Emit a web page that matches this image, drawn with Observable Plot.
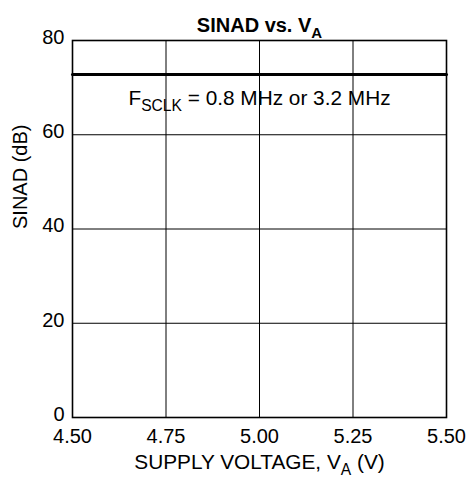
<!DOCTYPE html>
<html><head><meta charset="utf-8">
<script src="https://cdn.jsdelivr.net/npm/d3@7"></script>
<script src="https://cdn.jsdelivr.net/npm/@observablehq/plot@0.6"></script>
<style>
body{margin:0;background:#fff}
#chart svg{font-family:"Liberation Sans",Arial,Helvetica,sans-serif;background:#fff;color:#000}
</style>
</head><body><div id="chart"></div>
<script>
const voltage = [4.50, 4.75, 5.00, 5.25, 5.50];
const sinad = [72.8, 72.8, 72.8, 72.8, 72.8];
const xTicks = [4.50, 4.75, 5.00, 5.25, 5.50];
const yTicks = [0, 20, 40, 60, 80];
const titleText = "SINAD vs. V_{A}";
const xLabel = "SUPPLY VOLTAGE, V_{A} (V)";
const yLabel = "SINAD (dB)";
const noteText = "F_{SCLK} = 0.8 MHz or 3.2 MHz";
const noteX = 5.0, noteY = 67.8;

const data = voltage.map((v, i) => ({v, s: sinad[i]}));
const FS = 20;
const FL = 20.8;

const chart = Plot.plot({
  width: 466, height: 487,
  marginLeft: 72, marginRight: 20, marginTop: 40, marginBottom: 70,
  style: {fontSize: FS + "px", fontFamily: '"Liberation Sans",Arial,sans-serif', background: "#fff", color: "#000"},
  x: {domain: [4.5, 5.5]},
  y: {domain: [0, 80]},
  marks: [
    Plot.gridX(xTicks, {stroke: "#000", strokeOpacity: 1, strokeWidth: 1}),
    Plot.gridY(yTicks, {stroke: "#000", strokeOpacity: 1, strokeWidth: 1}),
    Plot.frame({stroke: "#000", strokeWidth: 1.6}),
    Plot.line(data, {x: "v", y: "s", stroke: "#000", strokeWidth: 3}),
    Plot.axisX(xTicks, {tickSize: 0, tickPadding: 11, tickFormat: d => d.toFixed(2), label: null, fontSize: FS}),
    Plot.axisY(yTicks, {tickSize: 0, tickPadding: 8, label: null, fontSize: FS, dy: -3}),
    Plot.text([titleText], {frameAnchor: "top", dy: -23, text: d => d, fontWeight: "bold", fontSize: FS}),
    Plot.text([xLabel], {frameAnchor: "bottom", dy: 51, text: d => d, fontSize: FL}),
    Plot.text([yLabel], {frameAnchor: "left", dx: -52, rotate: -90, text: d => d, fontSize: FS}),
    Plot.text([noteText], {x: () => noteX, y: () => noteY, text: d => d, fontSize: FL})
  ]
});

// convert _{...} into subscript tspans
d3.select(chart).selectAll("text").each(function() {
  const t = this.textContent;
  if (!t.includes("_{")) return;
  const parts = t.split(/(_\{[^}]*\})/).filter(p => p.length);
  const el = d3.select(this);
  el.text(null);
  let shifted = false;
  for (const p of parts) {
    if (p.startsWith("_{")) {
      el.append("tspan").attr("font-size", "75%").attr("dy", "6").text(p.slice(2, -1));
      shifted = true;
    } else {
      const ts = el.append("tspan").text(p);
      if (shifted) { ts.attr("dy", "-6"); shifted = false; }
    }
  }
});

document.getElementById("chart").appendChild(chart);
</script>
</body></html>
